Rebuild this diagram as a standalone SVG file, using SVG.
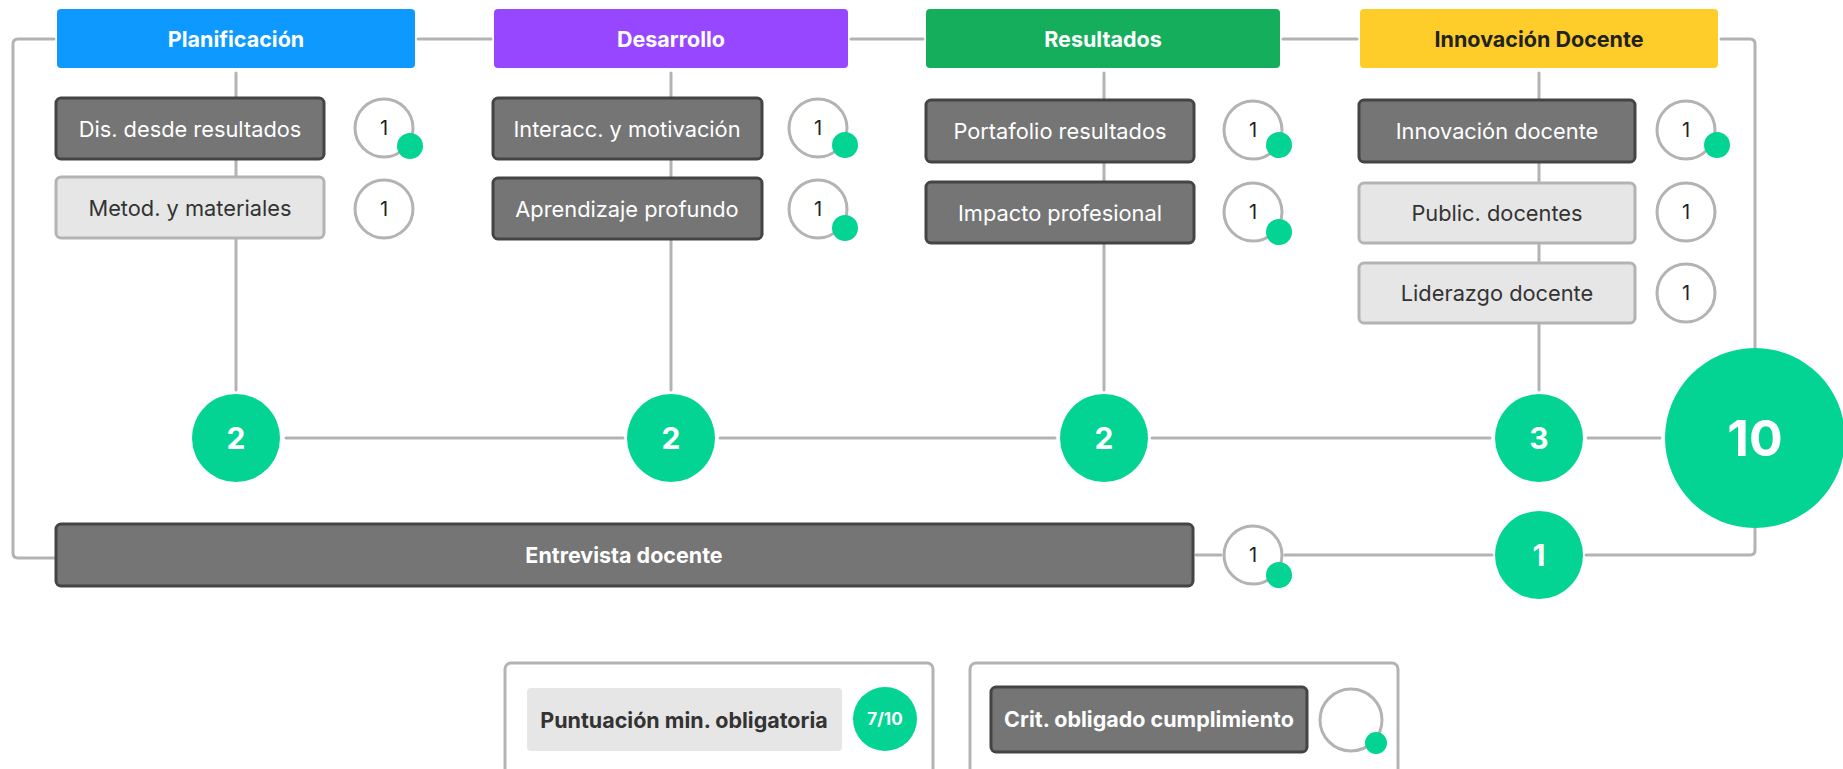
<svg xmlns="http://www.w3.org/2000/svg" width="1843" height="769" viewBox="0 0 1843 769">
<style>
text{font-family:Inter,"Noto Sans","Liberation Sans",sans-serif;}
.hdr-t{font-size:21.5px;font-weight:700;fill:#fff;text-anchor:middle;dominant-baseline:central;}
.box-d{fill:#757575;stroke:#444;stroke-width:3;}
.box-l{fill:#e6e6e6;stroke:#b3b3b3;stroke-width:3;}
.t-d{font-size:21.8px;fill:#fff;text-anchor:middle;dominant-baseline:central;}
.t-l{font-size:21.8px;fill:#333;text-anchor:middle;dominant-baseline:central;}
.sc{fill:#fff;stroke:#b3b3b3;stroke-width:3;}
.sc-t{font-size:20px;fill:#222;text-anchor:middle;dominant-baseline:central;}
.dot{fill:#03d494;}
.g{fill:#03d494;}
.g-t{font-size:30px;font-weight:700;fill:#fff;text-anchor:middle;dominant-baseline:central;}
.ln{fill:none;stroke:#b3b3b3;stroke-width:3;stroke-linecap:round;stroke-linejoin:round;}
</style>
<rect width="1843" height="769" fill="#fff"/>
<g id="connectors">
<path class="ln" d="M54 39 H18 Q13 39 13 44 V553 Q13 558 18 558 H54"/>
<path class="ln" d="M418 39 H491"/>
<path class="ln" d="M851 39 H923"/>
<path class="ln" d="M1283 39 H1357"/>
<path class="ln" d="M1721 39 H1750 Q1755 39 1755 44 V350"/>
<path class="ln" d="M1755 526 V550 Q1755 555 1750 555 H1586"/>
<path class="ln" d="M236 73 V390"/>
<path class="ln" d="M671 73 V390"/>
<path class="ln" d="M1104 73 V390"/>
<path class="ln" d="M1539 73 V390"/>
<path class="ln" d="M286 438 H623"/>
<path class="ln" d="M720 438 H1055"/>
<path class="ln" d="M1152 438 H1490"/>
<path class="ln" d="M1588 438 H1660"/>
<path class="ln" d="M1196 555 H1221"/>
<path class="ln" d="M1285 555 H1492"/>
</g>
<g id="hdr-planificacion"><rect x="57" y="9" width="358" height="59" rx="4" fill="#0d99ff"/><text class="hdr-t" x="236" y="39">Planificación</text></g>
<g id="hdr-desarrollo"><rect x="494" y="9" width="354" height="59" rx="4" fill="#9747ff"/><text class="hdr-t" x="671" y="39">Desarrollo</text></g>
<g id="hdr-resultados"><rect x="926" y="9" width="354" height="59" rx="4" fill="#14ae5c"/><text class="hdr-t" x="1103" y="39">Resultados</text></g>
<g id="hdr-innovacion"><rect x="1360" y="9" width="358" height="59" rx="4" fill="#ffcd29"/><text class="hdr-t" x="1539" y="39" style="fill:#222">Innovación Docente</text></g>

<g id="n-dis"><rect class="box-d" x="56" y="98" width="268" height="61" rx="5"/><text class="t-d" x="190" y="129">Dis. desde resultados</text></g>
<g id="s-dis"><circle class="sc" cx="384" cy="128" r="29"/><text class="sc-t" x="384" y="128">1</text><circle class="dot" cx="410" cy="146" r="13"/></g>
<g id="n-metod"><rect class="box-l" x="56" y="177" width="268" height="61" rx="5"/><text class="t-l" x="190" y="208">Metod. y materiales</text></g>
<g id="s-metod"><circle class="sc" cx="384" cy="209" r="29"/><text class="sc-t" x="384" y="209">1</text></g>

<g id="n-interacc"><rect class="box-d" x="493" y="98" width="269" height="61" rx="5"/><text class="t-d" x="627" y="129">Interacc. y motivación</text></g>
<g id="s-interacc"><circle class="sc" cx="818" cy="128" r="29"/><text class="sc-t" x="818" y="128">1</text><circle class="dot" cx="845" cy="145" r="13"/></g>
<g id="n-aprend"><rect class="box-d" x="493" y="178" width="269" height="61" rx="5"/><text class="t-d" x="627" y="209">Aprendizaje profundo</text></g>
<g id="s-aprend"><circle class="sc" cx="818" cy="209" r="29"/><text class="sc-t" x="818" y="209">1</text><circle class="dot" cx="845" cy="228" r="13"/></g>

<g id="n-portafolio"><rect class="box-d" x="926" y="100" width="268" height="62" rx="5"/><text class="t-d" x="1060" y="131">Portafolio resultados</text></g>
<g id="s-portafolio"><circle class="sc" cx="1253" cy="130" r="29"/><text class="sc-t" x="1253" y="130">1</text><circle class="dot" cx="1279" cy="145" r="13"/></g>
<g id="n-impacto"><rect class="box-d" x="926" y="182" width="268" height="61" rx="5"/><text class="t-d" x="1060" y="213">Impacto profesional</text></g>
<g id="s-impacto"><circle class="sc" cx="1253" cy="212" r="29"/><text class="sc-t" x="1253" y="212">1</text><circle class="dot" cx="1279" cy="232" r="13"/></g>

<g id="n-innov"><rect class="box-d" x="1359" y="100" width="276" height="62" rx="5"/><text class="t-d" x="1497" y="131">Innovación docente</text></g>
<g id="s-innov"><circle class="sc" cx="1686" cy="130" r="29"/><text class="sc-t" x="1686" y="130">1</text><circle class="dot" cx="1717" cy="145" r="13"/></g>
<g id="n-public"><rect class="box-l" x="1359" y="183" width="276" height="60" rx="5"/><text class="t-l" x="1497" y="213">Public. docentes</text></g>
<g id="s-public"><circle class="sc" cx="1686" cy="212" r="29"/><text class="sc-t" x="1686" y="212">1</text></g>
<g id="n-lider"><rect class="box-l" x="1359" y="263" width="276" height="60" rx="5"/><text class="t-l" x="1497" y="293">Liderazgo docente</text></g>
<g id="s-lider"><circle class="sc" cx="1686" cy="293" r="29"/><text class="sc-t" x="1686" y="293">1</text></g>

<g id="t-planificacion"><circle class="g" cx="236" cy="438" r="44"/><text class="g-t" x="236" y="438">2</text></g>
<g id="t-desarrollo"><circle class="g" cx="671" cy="438" r="44"/><text class="g-t" x="671" y="438">2</text></g>
<g id="t-resultados"><circle class="g" cx="1104" cy="438" r="44"/><text class="g-t" x="1104" y="438">2</text></g>
<g id="t-innovacion"><circle class="g" cx="1539" cy="438" r="44"/><text class="g-t" x="1539" y="438">3</text></g>
<g id="t-total"><circle class="g" cx="1755" cy="438" r="90"/><text class="g-t" x="1755" y="438" style="font-size:50px">10</text></g>

<g id="n-entrevista"><rect class="box-d" x="56" y="524" width="1137" height="62" rx="5"/><text class="hdr-t" x="624" y="555">Entrevista docente</text></g>
<g id="s-entrevista"><circle class="sc" cx="1253" cy="555" r="29"/><text class="sc-t" x="1253" y="555">1</text><circle class="dot" cx="1279" cy="575" r="13"/></g>
<g id="t-entrevista"><circle class="g" cx="1539" cy="555" r="44"/><text class="g-t" x="1539" y="555">1</text></g>

<g id="legend-min"><rect x="505" y="663" width="428" height="140" rx="6" fill="#fff" stroke="#b3b3b3" stroke-width="3"/><rect x="527" y="688" width="315" height="63" rx="4" fill="#e6e6e6"/><text x="684" y="720" style="font-size:21.5px;font-weight:700;fill:#333;text-anchor:middle;dominant-baseline:central">Puntuación min. obligatoria</text><circle class="g" cx="885" cy="719" r="32"/><text x="885" y="719" style="font-size:17px;font-weight:700;fill:#fff;text-anchor:middle;dominant-baseline:central">7/10</text></g>
<g id="legend-crit"><rect x="970" y="663" width="428" height="140" rx="6" fill="#fff" stroke="#b3b3b3" stroke-width="3"/><rect class="box-d" x="991" y="687" width="316" height="65" rx="5"/><text x="1149" y="719" style="font-size:21.5px;font-weight:700;fill:#fff;text-anchor:middle;dominant-baseline:central">Crit. obligado cumplimiento</text><circle class="sc" cx="1351" cy="720" r="31"/><circle class="dot" cx="1376" cy="743" r="11"/></g>
</svg>
